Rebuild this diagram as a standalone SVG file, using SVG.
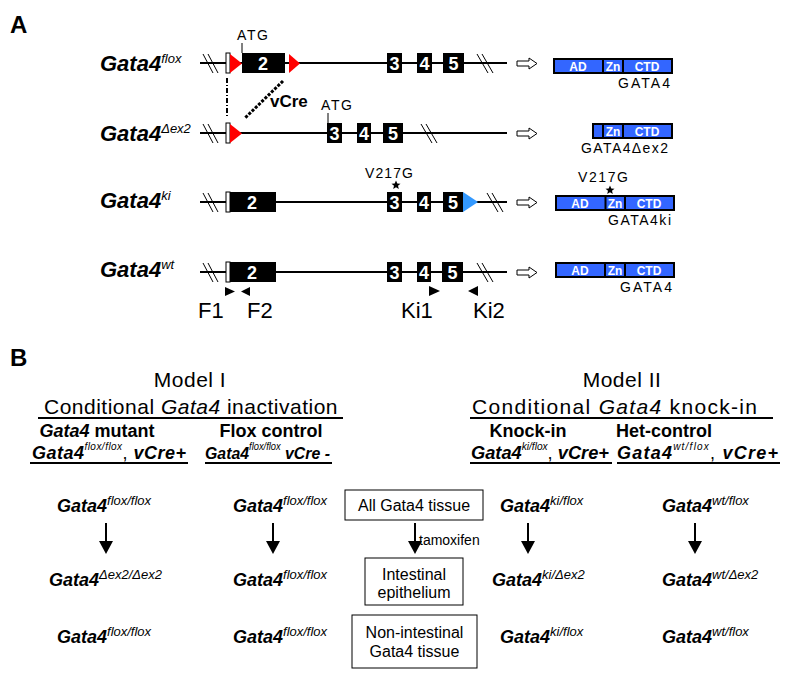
<svg xmlns="http://www.w3.org/2000/svg" width="804" height="680" viewBox="0 0 804 680">
<defs>
<style>
text{font-family:"Liberation Sans",Arial,sans-serif;fill:#000}
.pl{font-weight:bold;font-size:24px}
.gl{font-style:italic;font-weight:bold;font-size:22px}
.sup{font-weight:normal;font-size:13px}
.sm{font-size:14px}
.exn{fill:#fff;font-weight:bold;font-size:18px;text-anchor:middle}
.ln{stroke:#000;stroke-width:2;fill:none}
.th{stroke:#000;stroke-width:1;fill:none}
.ex{fill:#000}
.wb{fill:#fff;stroke:#000;stroke-width:1}
.red{fill:#ff0000}
.blu{fill:#3399ff}
.oa{fill:#fff;stroke:#000;stroke-width:1}
.pb{fill:#3366ff;stroke:#000;stroke-width:2}
.pd{stroke:#000;stroke-width:2}
.pt{fill:#fff;font-weight:bold;font-size:12px;text-anchor:middle}
.pr{font-size:22px}
.mh{font-size:21px;text-anchor:middle;letter-spacing:0.5px}
.sh{font-size:18px;font-weight:bold;text-anchor:middle}
.hg{font-size:18px;font-weight:bold;font-style:italic}
.hs{font-size:10px;font-weight:normal;font-style:italic}
.g2{font-size:18px;font-weight:bold;font-style:italic}
.s2{font-size:13px;font-weight:normal;font-style:italic}
.bx{fill:#fff;stroke:#000;stroke-width:1}
.bt{font-size:16px;text-anchor:middle}
</style>
</defs>

<text class="pl" x="10" y="33">A</text>
<text class="pl" x="10" y="366">B</text>

<!-- Row 1: flox -->
<g id="row-flox">
<text class="gl" x="100" y="71">Gata4<tspan class="sup" dy="-8">flox</tspan></text>
<line class="ln" x1="200" y1="63" x2="507" y2="63"/>
<line class="th" x1="203" y1="54" x2="213" y2="73"/>
<line class="th" x1="208" y1="54" x2="218" y2="73"/>
<rect class="wb" x="226" y="53" width="4" height="20"/>
<polygon class="red" points="230,54 242,63.5 230,73"/>
<rect class="ex" x="242" y="53" width="43" height="20"/>
<text class="exn" x="263" y="70">2</text>
<polygon class="red" points="289,54 300,63.5 289,73"/>
<text class="sm" x="237" y="40" textLength="31">ATG</text>
<line class="th" x1="242" y1="43" x2="242" y2="53"/>
<rect class="ex" x="387" y="53" width="15" height="20"/><text class="exn" x="394.5" y="70">3</text>
<rect class="ex" x="417" y="53" width="15" height="20"/><text class="exn" x="424.5" y="70">4</text>
<rect class="ex" x="443" y="53" width="21" height="20"/><text class="exn" x="453.5" y="70">5</text>
<line class="th" x1="477" y1="54" x2="488" y2="73"/>
<line class="th" x1="482" y1="54" x2="493" y2="73"/>
<polygon class="oa" points="517,61 529,61 529,58 537,63.5 529,69 529,66 517,66"/>
</g>

<g id="cre">
<line stroke="#000" stroke-width="2" stroke-dasharray="5,2,1,2" x1="227" y1="78" x2="227" y2="117"/>
<line stroke="#000" stroke-width="3" stroke-dasharray="3,1.5" x1="283" y1="81" x2="245" y2="118"/>
<text x="270" y="107" style="font-weight:bold;font-size:17px">vCre</text>
</g>

<!-- Row 2: dex2 -->
<g id="row-dex2">
<text class="gl" x="100" y="141">Gata4<tspan class="sup" dy="-8">Δex2</tspan></text>
<line class="ln" x1="200" y1="133" x2="507" y2="133"/>
<line class="th" x1="203" y1="124" x2="213" y2="143"/>
<line class="th" x1="208" y1="124" x2="218" y2="143"/>
<rect class="wb" x="226" y="123" width="4" height="20"/>
<polygon class="red" points="230,124 242,133.5 230,143"/>
<text class="sm" x="321" y="110" textLength="31">ATG</text>
<line class="th" x1="328" y1="113" x2="328" y2="123"/>
<rect class="ex" x="327" y="123" width="15" height="20"/><text class="exn" x="334.5" y="140">3</text>
<rect class="ex" x="357" y="123" width="14" height="20"/><text class="exn" x="364" y="140">4</text>
<rect class="ex" x="383" y="123" width="20" height="20"/><text class="exn" x="393" y="140">5</text>
<line class="th" x1="421" y1="124" x2="432" y2="143"/>
<line class="th" x1="426" y1="124" x2="437" y2="143"/>
<polygon class="oa" points="517,131 529,131 529,128 537,133.5 529,139 529,136 517,136"/>
</g>

<!-- Row 3: ki -->
<g id="row-ki">
<text class="gl" x="100" y="208">Gata4<tspan class="sup" dy="-8">ki</tspan></text>
<line class="ln" x1="200" y1="202" x2="507" y2="202"/>
<line class="th" x1="203" y1="193" x2="213" y2="212"/>
<line class="th" x1="208" y1="193" x2="218" y2="212"/>
<rect class="wb" x="226" y="192" width="4" height="20"/>
<rect class="ex" x="230" y="192" width="46" height="20"/>
<text class="exn" x="252" y="209">2</text>
<text class="sm" x="365" y="178" textLength="48">V217G</text>
<polygon class="ex" points="396,180.5 397.3,183.6 400.5,183.8 398,185.8 398.8,189 396,187.2 393.2,189 394,185.8 391.5,183.8 394.7,183.6"/>
<rect class="ex" x="387" y="192" width="15" height="20"/><text class="exn" x="394.5" y="209">3</text>
<rect class="ex" x="417" y="192" width="14" height="20"/><text class="exn" x="424" y="209">4</text>
<rect class="ex" x="443" y="192" width="20" height="20"/><text class="exn" x="453" y="209">5</text>
<polygon class="blu" points="463,192 478,202 463,212"/>
<line class="th" x1="487" y1="193" x2="498" y2="212"/>
<line class="th" x1="492" y1="193" x2="503" y2="212"/>
<polygon class="oa" points="517,200 529,200 529,197 537,202.5 529,208 529,205 517,205"/>
</g>

<!-- Row 4: wt -->
<g id="row-wt">
<text class="gl" x="100" y="277">Gata4<tspan class="sup" dy="-8">wt</tspan></text>
<line class="ln" x1="200" y1="272" x2="507" y2="272"/>
<line class="th" x1="203" y1="263" x2="213" y2="282"/>
<line class="th" x1="208" y1="263" x2="218" y2="282"/>
<rect class="wb" x="226" y="262" width="4" height="20"/>
<rect class="ex" x="230" y="262" width="46" height="20"/>
<text class="exn" x="252" y="279">2</text>
<rect class="ex" x="387" y="262" width="15" height="20"/><text class="exn" x="394.5" y="279">3</text>
<rect class="ex" x="417" y="262" width="14" height="20"/><text class="exn" x="424" y="279">4</text>
<rect class="ex" x="442" y="262" width="21" height="20"/><text class="exn" x="452.5" y="279">5</text>
<line class="th" x1="477" y1="263" x2="488" y2="282"/>
<line class="th" x1="482" y1="263" x2="493" y2="282"/>
<polygon class="oa" points="517,270 529,270 529,267 537,272.5 529,278 529,275 517,275"/>
<polygon class="ex" points="225,287 235,291.5 225,296"/>
<polygon class="ex" points="250,287 241,291.5 250,296"/>
<polygon class="ex" points="429,286 440,291 429,296"/>
<polygon class="ex" points="478,286 468,291 478,296"/>
<text class="pr" x="198" y="318">F1</text>
<text class="pr" x="247" y="318">F2</text>
<text class="pr" x="401" y="318">Ki1</text>
<text class="pr" x="473" y="318">Ki2</text>
</g>

<!-- Proteins -->
<g id="prot-gata4">
<rect class="pb" x="554" y="59" width="118" height="14"/>
<line class="pd" x1="603" y1="59" x2="603" y2="73"/>
<line class="pd" x1="623" y1="59" x2="623" y2="73"/>
<text class="pt" x="578" y="70.5">AD</text><text class="pt" x="613" y="70.5">Zn</text><text class="pt" x="647" y="70.5">CTD</text>
<text class="sm" x="618" y="88" textLength="52">GATA4</text>
</g>
<g id="prot-dex2">
<rect class="pb" x="593" y="124" width="79" height="14"/>
<line class="pd" x1="603" y1="124" x2="603" y2="138"/>
<line class="pd" x1="623" y1="124" x2="623" y2="138"/>
<text class="pt" x="613" y="135.5">Zn</text><text class="pt" x="647" y="135.5">CTD</text>
<text class="sm" x="581" y="153" textLength="87">GATA4Δex2</text>
</g>
<g id="prot-ki">
<text class="sm" x="578" y="182" textLength="50">V217G</text>
<polygon class="ex" points="610,185.5 611.3,188.6 614.5,188.8 612,190.8 612.8,194 610,192.2 607.2,194 608,190.8 605.5,188.8 608.7,188.6"/>
<rect class="pb" x="556" y="196" width="118" height="14"/>
<line class="pd" x1="605.5" y1="196" x2="605.5" y2="210"/>
<line class="pd" x1="625" y1="196" x2="625" y2="210"/>
<text class="pt" x="580" y="207.5">AD</text><text class="pt" x="615" y="207.5">Zn</text><text class="pt" x="649" y="207.5">CTD</text>
<text class="sm" x="608" y="225" textLength="63">GATA4ki</text>
</g>
<g id="prot-wt">
<rect class="pb" x="556" y="263" width="118" height="14"/>
<line class="pd" x1="605" y1="263" x2="605" y2="277"/>
<line class="pd" x1="625" y1="263" x2="625" y2="277"/>
<text class="pt" x="580" y="274.5">AD</text><text class="pt" x="615" y="274.5">Zn</text><text class="pt" x="649" y="274.5">CTD</text>
<text class="sm" x="620" y="292" textLength="52">GATA4</text>
</g>

<!-- Panel B headers -->
<g id="model1">
<text class="mh" x="190" y="387">Model I</text>
<text class="mh" x="191" y="414">Conditional <tspan font-style="italic">Gata4</tspan> inactivation</text>
<line class="ln" x1="38" y1="418" x2="343" y2="418"/>
</g>
<g id="model2">
<text class="mh" x="622" y="387">Model II</text>
<text x="472" y="414" style="font-size:21px" textLength="285">Conditional <tspan font-style="italic">Gata4</tspan> knock-in</text>
<line class="ln" x1="470" y1="418" x2="773" y2="418"/>
</g>

<g id="col-mutant">
<text class="sh" x="97" y="437"><tspan font-style="italic">Gata4</tspan> mutant</text>
<text class="hg" x="32" y="459" textLength="154">Gata4<tspan class="hs" dy="-9">flox/flox</tspan><tspan dy="9" font-style="normal" font-weight="normal">, </tspan>vCre+</text>
<line class="ln" x1="30" y1="463" x2="188" y2="463"/>
<text class="g2" x="57" y="512">Gata4<tspan class="s2" dy="-7">flox/flox</tspan></text>
<text class="g2" x="49" y="586">Gata4<tspan class="s2" dy="-7">Δex2/Δex2</tspan></text>
<text class="g2" x="57" y="643">Gata4<tspan class="s2" dy="-7">flox/flox</tspan></text>
</g>
<g id="col-flox">
<text class="sh" x="271" y="437">Flox control</text>
<text x="205" y="459" style="font-size:17px;font-weight:bold;font-style:italic" textLength="125" lengthAdjust="spacingAndGlyphs">Gata4<tspan class="hs" dy="-9">flox/flox</tspan><tspan dy="9"> vCre -</tspan></text>
<line class="ln" x1="205" y1="463" x2="332" y2="463"/>
<text class="g2" x="233" y="512">Gata4<tspan class="s2" dy="-7">flox/flox</tspan></text>
<text class="g2" x="233" y="586">Gata4<tspan class="s2" dy="-7">flox/flox</tspan></text>
<text class="g2" x="233" y="643">Gata4<tspan class="s2" dy="-7">flox/flox</tspan></text>
</g>
<g id="col-ki">
<text class="sh" x="528" y="437">Knock-in</text>
<text class="hg" x="471" y="459" textLength="138" lengthAdjust="spacingAndGlyphs">Gata4<tspan class="hs" dy="-9">ki/flox</tspan><tspan dy="9" font-style="normal" font-weight="normal">, </tspan>vCre+</text>
<line class="ln" x1="470" y1="463" x2="612" y2="463"/>
<text class="g2" x="500" y="512">Gata4<tspan class="s2" dy="-7">ki/flox</tspan></text>
<text class="g2" x="492" y="586">Gata4<tspan class="s2" dy="-7">ki/Δex2</tspan></text>
<text class="g2" x="500" y="643">Gata4<tspan class="s2" dy="-7">ki/flox</tspan></text>
</g>
<g id="col-het">
<text class="sh" x="664" y="437">Het-control</text>
<text class="hg" x="617" y="459" textLength="161">Gata4<tspan class="hs" dy="-9">wt/flox</tspan><tspan dy="9" font-style="normal" font-weight="normal">, </tspan>vCre+</text>
<line class="ln" x1="617" y1="463" x2="780" y2="463"/>
<text class="g2" x="662" y="512">Gata4<tspan class="s2" dy="-7">wt/flox</tspan></text>
<text class="g2" x="662" y="586">Gata4<tspan class="s2" dy="-7">wt/Δex2</tspan></text>
<text class="g2" x="662" y="643">Gata4<tspan class="s2" dy="-7">wt/flox</tspan></text>
</g>

<g id="box-all"><rect class="bx" x="345" y="490" width="138" height="30"/><text class="bt" x="414" y="511">All Gata4 tissue</text></g>
<g id="box-int"><rect class="bx" x="365" y="558" width="98" height="47"/><text class="bt" x="414" y="580">Intestinal</text><text class="bt" x="414" y="598">epithelium</text></g>
<g id="box-non"><rect class="bx" x="352" y="615" width="125" height="53"/><text class="bt" x="414.5" y="638">Non-intestinal</text><text class="bt" x="414.5" y="657">Gata4 tissue</text></g>

<g id="connectors">
<line class="ln" x1="106" y1="523" x2="106" y2="543"/><polygon class="ex" points="99,541 113,541 106,554"/>
<line class="ln" x1="273" y1="523" x2="273" y2="543"/><polygon class="ex" points="266,541 280,541 273,554"/>
<line class="ln" x1="415" y1="523" x2="415" y2="543"/><polygon class="ex" points="408,541 422,541 415,554"/>
<line class="ln" x1="528" y1="523" x2="528" y2="543"/><polygon class="ex" points="521,541 535,541 528,554"/>
<line class="ln" x1="695" y1="523" x2="695" y2="543"/><polygon class="ex" points="688,541 702,541 695,554"/>
<text x="419" y="545" style="font-size:14px">tamoxifen</text>
</g>
</svg>
